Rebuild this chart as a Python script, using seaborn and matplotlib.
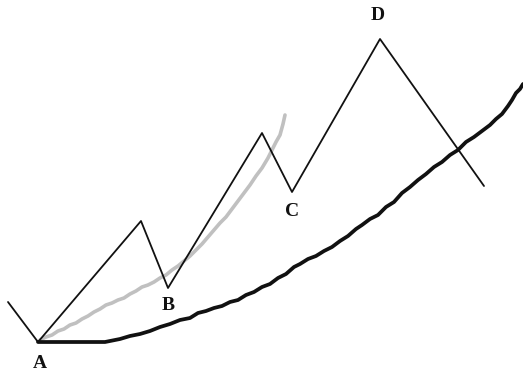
import pandas as pd
import matplotlib.pyplot as plt
import seaborn as sns

# Elliott-style zigzag (price swings)
zig_x = [8, 38, 141, 168, 262, 292, 380, 484]
zig_y = [69, 29, 150, 83, 238, 179, 332, 185]

# gray trend curve
gray_x = [40, 46, 52, 58, 64, 70, 76, 82, 88, 94, 100, 106, 112, 118, 124, 130, 136, 142,
          148, 154, 160, 166, 172, 178, 184, 190, 196, 202, 208, 214, 220, 226, 232, 238,
          244, 250, 256, 262, 268, 272, 276, 280, 283, 285]
gray_y = [31, 34, 36, 40, 42, 46, 48, 52, 55, 59, 62, 66, 68, 71, 73, 77, 80, 84,
          86, 89, 93, 96, 101, 105, 110, 115, 121, 127, 134, 141, 148, 154, 162, 170,
          178, 186, 195, 203, 213, 221, 229, 236, 247, 256]

# thick black curve
black_x = [38, 105, 110, 120, 130, 140, 150, 160, 170, 180, 190, 198, 206, 214, 222, 230,
           238, 246, 254, 262, 270, 278, 286, 294, 300, 308, 316, 324, 332, 340, 348, 356,
           362, 370, 378, 386, 394, 402, 410, 418, 426, 434, 442, 450, 458, 466, 474, 482,
           490, 496, 502, 508, 512, 516, 520, 523]
black_y = [29, 29, 30, 32, 35, 37, 40, 44, 47, 51, 53, 58, 60, 63, 65, 69,
           71, 76, 79, 84, 87, 93, 97, 104, 107, 112, 115, 120, 124, 130, 135, 142,
           146, 152, 156, 164, 169, 178, 184, 191, 197, 204, 209, 216, 221, 229, 234, 240,
           246, 252, 257, 265, 271, 278, 282, 287]

labels = ["A", "B", "C", "D"]
label_x = [40, 168, 292, 378]
label_y = [8, 65, 159, 355]

sns.set_theme(style="white")

fig = plt.figure(figsize=(5.23, 3.71), dpi=100)
ax = fig.add_axes([0, 0, 1, 1])

sns.lineplot(x=gray_x, y=gray_y, color="#c0c0c0", linewidth=2.6, sort=False, ax=ax)
sns.lineplot(x=black_x, y=black_y, color="#111111", linewidth=2.7, sort=False, ax=ax)
sns.lineplot(x=zig_x, y=zig_y, color="#111111", linewidth=1.3, sort=False, ax=ax)

for t, x, y in zip(labels, label_x, label_y):
    ax.text(x, y, t, ha="center", va="center", fontsize=14, fontweight="bold",
            family=["Liberation Serif", "DejaVu Serif"], color="#111111")

ax.set_xlim(0, 523)
ax.set_ylim(0, 371)
ax.axis("off")

fig.savefig("out.png", dpi=100)
